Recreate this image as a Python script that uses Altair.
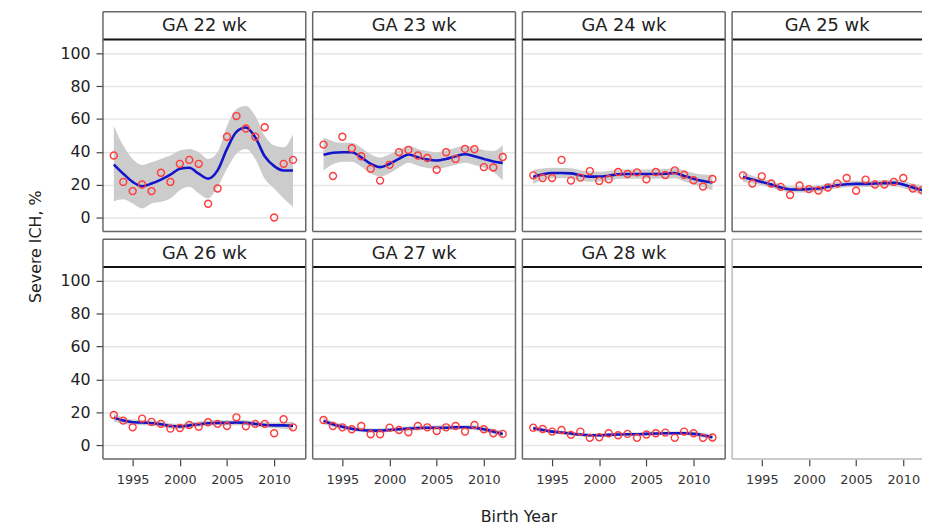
import altair as alt
import pandas as pd

# ---------------- data ----------------
YEARS = [1993, 1994, 1995, 1996, 1997, 1998, 1999, 2000, 2001, 2002,
         2003, 2004, 2005, 2006, 2007, 2008, 2009, 2010, 2011, 2012]

LABELS = ["GA 22 wk", "GA 23 wk", "GA 24 wk", "GA 25 wk",
          "GA 26 wk", "GA 27 wk", "GA 28 wk", ""]

OBS_22 = [37.8, 21.7, 16.1, 20.1, 16.1, 27.3, 21.7, 32.7, 35.1, 32.7,
          8.4, 17.7, 49.2, 61.8, 54.2, 49.2, 55.0, 0.0, 32.7, 35.1]
FIT_22 = [32.3, 26.7, 21.7, 19.1, 20.7, 23.1, 26.1, 29.7, 30.3, 26.7,
          23.7, 28.7, 41.8, 52.2, 54.8, 48.8, 37.3, 31.3, 28.7, 28.7]
HI_22 = [55.8, 43.8, 35.7, 32.0, 33.7, 35.7, 37.8, 40.8, 41.8, 39.8,
         35.7, 39.8, 55.8, 65.9, 67.9, 61.8, 49.8, 43.8, 42.8, 50.8]
LO_22 = [10.0, 11.2, 8.6, 5.6, 8.6, 9.6, 11.6, 16.7, 18.7, 14.7,
         11.6, 18.7, 29.7, 38.8, 41.8, 35.7, 23.7, 17.7, 11.6, 6.6]

OBS_23 = [44.4, 25.3, 49.2, 42.2, 37.3, 29.7, 22.5, 32.1, 39.8, 41.2,
          37.8, 36.3, 29.1, 39.8, 35.7, 41.8, 41.6, 30.7, 30.5, 36.9]
FIT_23 = [38.2, 39.4, 39.8, 39.8, 36.7, 32.7, 30.7, 32.7, 35.7, 38.4,
          36.7, 35.3, 34.7, 35.7, 37.3, 38.6, 37.3, 35.7, 34.1, 33.3]
HI_23 = [48.8, 46.5, 45.5, 45.5, 42.5, 38.5, 36.5, 38.5, 41.0, 43.5,
         41.8, 40.5, 39.8, 40.8, 42.5, 43.8, 42.6, 41.0, 40.5, 44.2]
LO_23 = [28.7, 32.5, 34.0, 34.0, 31.0, 27.0, 25.0, 27.0, 30.5, 33.3,
         31.6, 30.1, 29.6, 30.6, 32.1, 33.4, 32.0, 30.4, 27.7, 22.7]

OBS_24 = [25.7, 24.1, 24.1, 35.1, 22.5, 24.3, 28.3, 22.3, 23.3, 27.7,
          26.5, 27.5, 23.3, 27.7, 25.9, 28.7, 26.1, 22.7, 18.9, 23.5]
FIT_24 = [24.7, 26.3, 27.1, 27.1, 26.9, 25.7, 24.9, 24.9, 25.5, 26.3,
          26.5, 26.5, 26.5, 26.5, 26.7, 27.1, 25.3, 23.7, 22.3, 21.3]
HI_24 = [29.0, 29.8, 30.3, 30.2, 30.0, 28.8, 28.0, 27.9, 28.4, 29.1,
         29.3, 29.3, 29.3, 29.3, 29.6, 30.2, 28.6, 27.2, 26.2, 26.0]
LO_24 = [20.4, 22.8, 23.9, 24.0, 23.8, 22.6, 21.8, 21.9, 22.6, 23.5,
         23.7, 23.7, 23.7, 23.7, 23.8, 24.0, 22.0, 20.2, 18.4, 16.6]

OBS_25 = [25.7, 20.7, 25.1, 20.7, 18.7, 13.7, 19.5, 17.3, 16.5, 18.3,
          20.7, 24.1, 16.3, 23.1, 20.1, 20.1, 21.7, 24.1, 17.7, 16.7]
FIT_25 = [24.7, 23.1, 21.7, 20.1, 18.3, 17.1, 17.1, 17.3, 17.7, 18.7,
          19.7, 20.3, 20.5, 20.5, 20.7, 20.9, 21.1, 20.1, 18.3, 16.7]
HI_25 = [27.6, 25.5, 23.8, 22.1, 20.2, 19.0, 19.0, 19.2, 19.6, 20.6,
         21.6, 22.2, 22.4, 22.4, 22.6, 22.9, 23.2, 22.3, 20.7, 19.6]
LO_25 = [21.8, 20.7, 19.6, 18.1, 16.4, 15.2, 15.2, 15.4, 15.8, 16.8,
         17.8, 18.4, 18.6, 18.6, 18.8, 18.9, 19.0, 17.9, 15.9, 13.8]

OBS_26 = [18.3, 14.9, 10.8, 16.1, 14.1, 12.9, 10.0, 10.4, 12.2, 11.2,
          13.9, 12.9, 11.6, 16.9, 11.4, 12.9, 12.9, 7.2, 15.7, 10.8]
FIT_26 = [16.7, 14.9, 13.9, 13.7, 13.3, 12.7, 11.6, 11.4, 12.0, 12.7,
          13.3, 13.5, 13.5, 13.7, 13.5, 12.9, 12.2, 12.0, 12.0, 11.8]
HI_26 = [19.0, 16.8, 15.6, 15.3, 14.9, 14.3, 13.2, 13.0, 13.6, 14.3,
         14.9, 15.1, 15.1, 15.3, 15.1, 14.5, 13.9, 13.8, 14.0, 14.2]
LO_26 = [14.4, 13.0, 12.2, 12.1, 11.7, 11.1, 10.0, 9.8, 10.4, 11.1,
         11.7, 11.9, 11.9, 12.1, 11.9, 11.3, 10.5, 10.2, 10.0, 9.4]

OBS_27 = [15.3, 11.6, 10.8, 9.6, 11.6, 6.6, 6.6, 10.6, 9.2, 7.8,
          11.6, 10.8, 8.6, 10.8, 11.6, 8.2, 12.2, 9.6, 7.2, 6.8]
FIT_27 = [14.7, 12.7, 11.2, 10.0, 9.2, 8.8, 8.8, 9.2, 9.6, 10.0,
          10.4, 10.6, 10.6, 10.6, 10.8, 10.8, 10.6, 9.6, 8.2, 6.8]
HI_27 = [16.6, 14.3, 12.6, 11.3, 10.5, 10.1, 10.1, 10.5, 10.9, 11.3,
         11.7, 11.9, 11.9, 11.9, 12.1, 12.1, 12.0, 11.1, 9.8, 8.7]
LO_27 = [12.8, 11.1, 9.8, 8.7, 7.9, 7.5, 7.5, 7.9, 8.3, 8.7,
         9.1, 9.3, 9.3, 9.3, 9.5, 9.5, 9.2, 8.1, 6.6, 4.9]

OBS_28 = [10.6, 9.8, 8.2, 9.2, 6.2, 8.2, 4.4, 4.8, 7.2, 6.0,
          6.8, 4.4, 6.4, 7.2, 7.6, 4.4, 8.2, 7.2, 4.4, 4.6]
FIT_28 = [10.2, 9.2, 8.2, 7.6, 7.0, 6.4, 6.0, 6.0, 6.2, 6.4,
          6.6, 6.6, 6.8, 7.0, 7.2, 7.2, 7.2, 6.8, 6.0, 4.8]
HI_28 = [11.8, 10.5, 9.4, 8.7, 8.1, 7.5, 7.1, 7.1, 7.3, 7.5,
         7.7, 7.7, 7.9, 8.1, 8.3, 8.3, 8.4, 8.1, 7.4, 6.5]
LO_28 = [8.6, 7.9, 7.0, 6.5, 5.9, 5.3, 4.9, 4.9, 5.1, 5.3,
         5.5, 5.5, 5.7, 5.9, 6.1, 6.1, 6.0, 5.5, 4.6, 3.1]

SERIES = [
    (OBS_22, FIT_22, LO_22, HI_22),
    (OBS_23, FIT_23, LO_23, HI_23),
    (OBS_24, FIT_24, LO_24, HI_24),
    (OBS_25, FIT_25, LO_25, HI_25),
    (OBS_26, FIT_26, LO_26, HI_26),
    (OBS_27, FIT_27, LO_27, HI_27),
    (OBS_28, FIT_28, LO_28, HI_28),
    None,
]

X_TICKS = [1995, 2000, 2005, 2010]
Y_TICKS = [0, 20, 40, 60, 80, 100]

# ---------------- styling / layout ----------------
FONT = "DejaVu Sans"
W = 205
W_LAST = 192
H = 222
HDR = 28
PX_PER_YEAR = 9.535
X0 = 1991.85
Y_SCALE = alt.Scale(domain=[-8.43, 125.3], nice=False, zero=False)
FRAME = "#666666"
FRAME_LIGHT = "#bbbbbb"
DUMMY = pd.DataFrame({"k": [0]})


def x_encoding(row, col, width):
    scale = alt.Scale(domain=[X0, X0 + width / PX_PER_YEAR], nice=False, zero=False)
    if row == 0:
        return alt.X("year:Q", scale=scale, axis=None)
    kw = dict(values=X_TICKS, format="d", grid=False, domain=False,
              ticks=True, tickSize=7, tickColor="#444444", tickWidth=1.2,
              labelFont=FONT, labelFontSize=13, labelColor="#333333",
              labelPadding=8, labelOverlap=False, labelFlush=False)
    if col == 1:
        kw.update(title="Birth Year", titleFont=FONT, titleFontSize=16,
                  titleFontWeight="normal", titleColor="#222222",
                  titleX=208, titleY=58, titleAlign="center",
                  titleBaseline="middle")
    else:
        kw.update(title=None)
    return alt.X("year:Q", scale=scale, axis=alt.Axis(**kw))


def y_axis(row, col):
    left = col == 0
    kw = dict(values=Y_TICKS, grid=True, gridColor="#e6e6e6", gridWidth=1.5,
              domain=False, ticks=left, labels=left, tickSize=7,
              tickColor="#444444", tickWidth=1.2, labelFont=FONT,
              labelFontSize=16, labelColor="#222222", labelPadding=6)
    if left and row == 0:
        kw.update(title="Severe ICH, %", titleFont=FONT, titleFontSize=16,
                  titleFontWeight="normal", titleColor="#222222",
                  titleX=-68, titleY=237, titleAngle=270,
                  titleAlign="center", titleBaseline="middle")
    else:
        kw.update(title=None)
    return alt.Axis(**kw)


def panel(i):
    row, col = divmod(i, 4)
    width = W_LAST if col == 3 else W
    label = LABELS[i]
    xe = x_encoding(row, col, width)
    layers = []
    if SERIES[i] is not None:
        obs, fit, lo, hi = SERIES[i]
        df = pd.DataFrame({"year": YEARS, "obs": obs, "fit": fit, "lo": lo, "hi": hi})
        ya = y_axis(row, col)
        layers.append(alt.Chart(df).mark_area(color="#cccccc", interpolate="monotone", clip=True)
                      .encode(x=xe, y=alt.Y("lo:Q", scale=Y_SCALE, axis=ya), y2="hi:Q"))
        layers.append(alt.Chart(df).mark_line(color="#1414c8", strokeWidth=2.6,
                                              interpolate="monotone", clip=True)
                      .encode(x=xe, y=alt.Y("fit:Q", scale=Y_SCALE, axis=ya)))
        layers.append(alt.Chart(df).mark_point(shape="circle", filled=False, color="#ff3b3b",
                                               size=50, strokeWidth=1.4, opacity=1, clip=True)
                      .encode(x=xe, y=alt.Y("obs:Q", scale=Y_SCALE, axis=ya)))
        frame_color = FRAME
    else:
        df = pd.DataFrame({"year": YEARS, "obs": [50.0] * len(YEARS)})
        layers.append(alt.Chart(df).mark_point(opacity=0)
                      .encode(x=xe, y=alt.Y("obs:Q", scale=Y_SCALE, axis=None)))
        frame_color = FRAME_LIGHT

    # header strip
    layers.append(alt.Chart(DUMMY).mark_rect(fill="white", strokeOpacity=0)
                  .encode(x=alt.value(0), x2=alt.value(width), y=alt.value(0), y2=alt.value(HDR)))
    layers.append(alt.Chart(DUMMY).mark_rule(color="#111111", strokeWidth=2)
                  .encode(x=alt.value(0), x2=alt.value(width), y=alt.value(HDR)))
    if label:
        layers.append(alt.Chart(DUMMY).mark_text(font=FONT, fontSize=18, color="#222222",
                                                 align="center", baseline="middle")
                      .encode(x=alt.value(width / 2), y=alt.value(HDR / 2 + 0.5), text=alt.value(label)))
    # frame (right side omitted in the last column, cut off in the reference)
    fr = dict(color=frame_color, strokeWidth=1.5)
    layers.append(alt.Chart(DUMMY).mark_rule(**fr)
                  .encode(x=alt.value(0), y=alt.value(0), y2=alt.value(H)))
    layers.append(alt.Chart(DUMMY).mark_rule(**fr)
                  .encode(x=alt.value(0), x2=alt.value(width), y=alt.value(0)))
    layers.append(alt.Chart(DUMMY).mark_rule(**fr)
                  .encode(x=alt.value(0), x2=alt.value(width), y=alt.value(H)))
    if col != 3:
        layers.append(alt.Chart(DUMMY).mark_rule(**fr)
                      .encode(x=alt.value(width), y=alt.value(0), y2=alt.value(H)))
    return alt.layer(*layers).properties(width=width, height=H)


chart = (
    alt.concat(*[panel(i) for i in range(8)], columns=4,
               spacing=alt.RowColnumber(row=8, column=7), bounds="flush")
    .properties(padding={"left": 20, "top": 0, "right": 0, "bottom": 0},
                background="white")
    .configure_view(stroke=None)
)

chart.save("out.html", embed_options={"renderer": "svg", "actions": False})
